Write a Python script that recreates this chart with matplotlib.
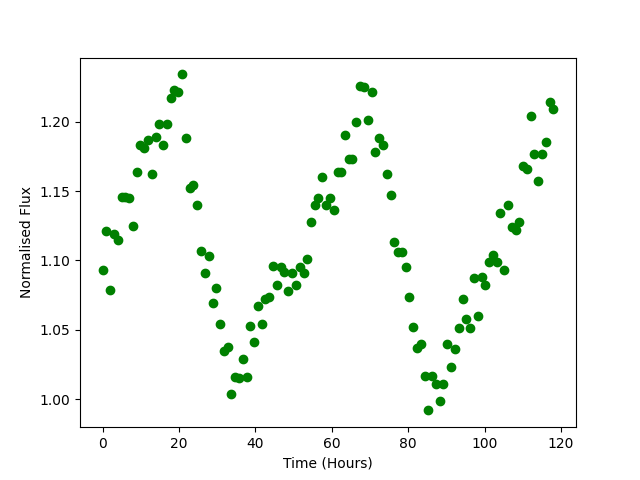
import matplotlib
matplotlib.use("Agg")
import matplotlib.pyplot as plt

# observation times (hours)
time_hours = [
    0.0, 1.0, 2.0, 3.0, 4.0, 5.0, 5.9, 6.9, 7.9, 8.9,
    9.9, 10.9, 11.9, 12.9, 13.9, 14.9, 15.9, 16.9, 17.8, 18.8,
    19.8, 20.8, 21.8, 22.8, 23.8, 24.8, 25.8, 26.8, 27.8, 28.8,
    29.7, 30.7, 31.7, 32.7, 33.7, 34.7, 35.7, 36.7, 37.7, 38.7,
    39.7, 40.7, 41.6, 42.6, 43.6, 44.6, 45.6, 46.6, 47.6, 48.6,
    49.6, 50.6, 51.6, 52.6, 53.5, 54.5, 55.5, 56.5, 57.5, 58.5,
    59.5, 60.5, 61.5, 62.5, 63.5, 64.5, 65.4, 66.4, 67.4, 68.4,
    69.4, 70.4, 71.4, 72.4, 73.4, 74.4, 75.4, 76.4, 77.3, 78.3,
    79.3, 80.3, 81.3, 82.3, 83.3, 84.3, 85.3, 86.3, 87.3, 88.3,
    89.2, 90.2, 91.2, 92.2, 93.2, 94.2, 95.2, 96.2, 97.2, 98.2,
    99.2, 100.2, 101.1, 102.1, 103.1, 104.1, 105.1, 106.1, 107.1, 108.1,
    109.1, 110.1, 111.1, 112.1, 113.0, 114.0, 115.0, 116.0, 117.0, 118.0,
]

# normalised flux
flux = [
    1.093, 1.121, 1.079, 1.119, 1.115, 1.146, 1.146, 1.145, 1.125, 1.164,
    1.183, 1.181, 1.187, 1.162, 1.189, 1.198, 1.183, 1.198, 1.217, 1.223,
    1.221, 1.234, 1.188, 1.152, 1.154, 1.140, 1.107, 1.091, 1.103, 1.069,
    1.080, 1.054, 1.035, 1.038, 1.004, 1.016, 1.015, 1.029, 1.016, 1.053,
    1.041, 1.067, 1.054, 1.072, 1.074, 1.096, 1.082, 1.095, 1.092, 1.078,
    1.091, 1.082, 1.095, 1.091, 1.101, 1.128, 1.140, 1.145, 1.160, 1.140,
    1.145, 1.136, 1.164, 1.164, 1.190, 1.173, 1.173, 1.200, 1.226, 1.225,
    1.201, 1.221, 1.178, 1.188, 1.183, 1.162, 1.147, 1.113, 1.106, 1.106,
    1.095, 1.074, 1.052, 1.037, 1.040, 1.017, 0.992, 1.017, 1.011, 0.999,
    1.011, 1.040, 1.023, 1.036, 1.051, 1.072, 1.058, 1.051, 1.087, 1.060,
    1.088, 1.082, 1.099, 1.104, 1.099, 1.134, 1.093, 1.140, 1.124, 1.122,
    1.128, 1.168, 1.166, 1.204, 1.177, 1.157, 1.177, 1.185, 1.214, 1.209,
]

fig, ax = plt.subplots(figsize=(6.4, 4.8), dpi=100)
ax.plot(time_hours, flux, "go")
ax.set_xlabel("Time (Hours)")
ax.set_ylabel("Normalised Flux")

fig.savefig("out.png")
